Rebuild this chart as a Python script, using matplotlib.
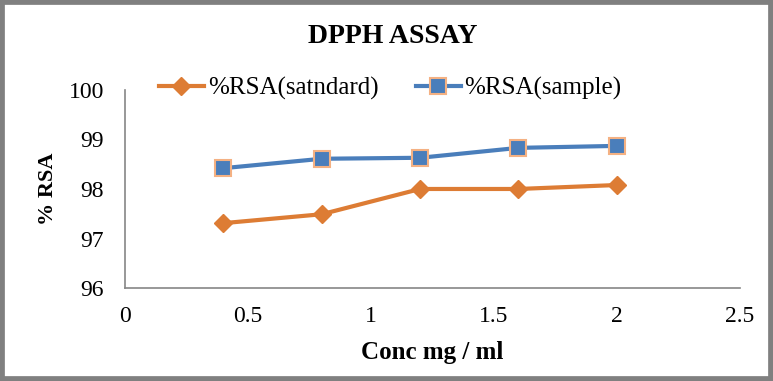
import matplotlib
matplotlib.use("Agg")
import matplotlib.pyplot as plt
from matplotlib.patches import Rectangle

# data
conc = [0.4, 0.8, 1.2, 1.6, 2.0]
rsa_standard = [97.31, 97.49, 98.00, 98.00, 98.08]
rsa_sample = [98.42, 98.61, 98.63, 98.83, 98.87]
x_ticks = [0, 0.5, 1, 1.5, 2, 2.5]
x_tick_labels = ["0", "0.5", "1", "1.5", "2", "2.5"]
y_ticks = [96, 97, 98, 99, 100]

plt.rcParams['font.family'] = ['Liberation Serif', 'DejaVu Serif']

fig = plt.figure(figsize=(7.73, 3.81), dpi=100)
ax = fig.add_axes([0.1617, 0.244, 0.7953, 0.520])

ax.plot(conc, rsa_standard, color="#DD7C34", lw=3, marker="D", ms=9,
        mfc="#DD7C34", mec="#DD7C34", label="%RSA(satndard)")
ax.plot(conc, rsa_sample, color="#4A7EBB", lw=3, marker="s", ms=11,
        mfc="#4A7EBB", mec="#F4B183", mew=1.5, label="%RSA(sample)")

ax.set_xlim(0, 2.5)
ax.set_ylim(96, 100)
ax.set_xticks(x_ticks)
ax.set_xticklabels(x_tick_labels)
ax.set_yticks(y_ticks)
ax.tick_params(length=0, labelsize=17)
ax.tick_params(axis='x', pad=13)
ax.tick_params(axis='y', pad=15)

for s in ["top", "right"]:
    ax.spines[s].set_visible(False)
for s in ["left", "bottom"]:
    ax.spines[s].set_color("#868686")
    ax.spines[s].set_linewidth(1.2)

ax.set_xlabel("Conc mg / ml", fontsize=18, fontweight="bold", labelpad=10)
ax.set_ylabel("% RSA", fontsize=16, fontweight="bold", labelpad=8)

fig.text(0.508, 0.905, "DPPH ASSAY", ha="center", va="center",
         fontsize=20, fontweight="bold")

fig.legend(loc="center", bbox_to_anchor=(0.505, 0.768), ncol=2, frameon=False,
           fontsize=18, handlelength=1.8, columnspacing=1.5, handletextpad=0.15)

fig.add_artist(Rectangle((0, 0), 1, 1, transform=fig.transFigure,
                         fill=False, ec="#808080", lw=7))

fig.savefig("out.png", dpi=100)
